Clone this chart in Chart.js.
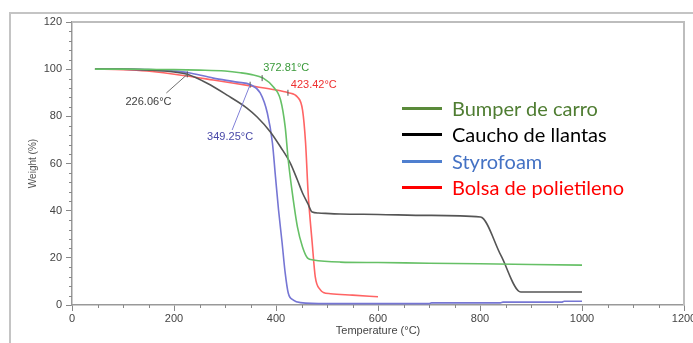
<!DOCTYPE html>
<html>
<head>
<meta charset="utf-8">
<script src="https://cdn.jsdelivr.net/npm/chart.js@4/dist/chart.umd.min.js"></script>
<style>
  html, body { margin: 0; padding: 0; background: #fff; }
  #wrap { position: relative; width: 693px; height: 343px; overflow: hidden; }
  #frame { position: absolute; left: 9px; top: 12px; width: 700px; height: 400px;
           border-left: 2px solid #c4c4c4; border-top: 2px solid #c4c4c4; box-sizing: border-box; }
  canvas { position: absolute; left: 0; top: 0; }
  #legend { position: absolute; left: 402px; top: 96px; font-family: Lato, "Open Sans", sans-serif; font-size: 20px; }
  .row { position: absolute; left: 0; height: 24px; white-space: nowrap; }
  .row .ln { position: absolute; left: 0; width: 40px; height: 3px; top: 11px; }
  .row .tx { position: absolute; left: 50px; top: 0; line-height: 24px; }
</style>
</head>
<body>
<div id="wrap">
  <div id="frame"></div>
  <canvas id="c" width="693" height="343"></canvas>
  <div id="legend"></div>
</div>
<script>
// ---- Data ----
const seriesNames = ["Bumper de carro", "Caucho de llantas", "Styrofoam", "Bolsa de polietileno"];

const bumperT = [45, 100, 150, 200, 250, 300, 330, 350, 375, 395, 409, 418, 424, 432, 442, 452, 462, 473, 526, 600, 700, 800, 900, 1000];
const bumperW = [100, 100, 99.9, 99.8, 99.6, 99.2, 98.5, 97.8, 96.2, 92.4, 86.9, 75.5, 61.5, 47.5, 33.1, 24.6, 19.9, 19.1, 18.2, 18.0, 17.7, 17.5, 17.2, 16.9];

const cauchoT = [45, 100, 150, 200, 226, 265, 304, 343, 363, 389, 409, 428, 442, 452, 462, 471, 483, 526, 600, 700, 801, 841, 880, 920, 1000];
const cauchoW = [100, 100, 99.6, 98.8, 97.8, 94, 89, 83.5, 79.7, 73.4, 67, 60.2, 53, 47.5, 43.2, 39.4, 39, 38.6, 38.4, 38, 37.3, 21, 5.5, 5.5, 5.5];

const styroT = [45, 100, 150, 200, 226, 277, 324, 350, 369, 383, 393, 399, 405, 412, 418, 424, 434, 448, 500, 600, 700, 705, 840, 845, 960, 965, 1000];
const styroW = [100, 100, 99.8, 99.2, 98.6, 96.2, 94.5, 93.4, 89.9, 81.4, 68.7, 54.3, 40.3, 26.3, 13.6, 5.1, 2.1, 1.0, 0.6, 0.6, 0.6, 0.9, 0.9, 1.2, 1.2, 1.6, 1.6];

const bolsaT = [45, 100, 147, 226, 277, 350, 400, 424, 442, 452, 458, 463, 471, 477, 487, 493, 507, 550, 600];
const bolsaW = [100, 99.8, 99.2, 97.1, 95.4, 92.9, 91.2, 90, 88.2, 82.7, 68.7, 47.5, 26.3, 11.9, 6.4, 5.3, 4.8, 4.2, 3.5];

const xTicks = [0, 200, 400, 600, 800, 1000, 1200];
const yTicks = [0, 20, 40, 60, 80, 100, 120];

// onset annotations: [temperature, weight at onset, label]
const onsetT = [372.81, 423.42, 226.06, 349.25];
const onsetW = [96.2, 90.0, 97.8, 93.4];
const onsetLabels = ["372.81°C", "423.42°C", "226.06°C", "349.25°C"];

// ---- Styling ----
const lineColors = ["#66c066", "#555555", "#7676d4", "#ff6464"];
const legendLineColors = ["#5a8a3a", "#000000", "#4f7fcf", "#ff0000"];
const legendTextColors = ["#4f7d32", "#000000", "#4472c4", "#ff0000"];
const annoColors = ["#3a9a3a", "#ee3030", "#404040", "#4848a8"];

function pts(t, w) { return t.map((v, i) => ({x: v, y: w[i]})); }
const allT = [bumperT, cauchoT, styroT, bolsaT];
const allW = [bumperW, cauchoW, styroW, bolsaW];

// legend
const lg = document.getElementById('legend');
seriesNames.forEach((n, i) => {
  const r = document.createElement('div');
  r.className = 'row';
  r.style.top = (i * 26.3) + 'px';
  r.innerHTML = '<div class="ln" style="background:' + legendLineColors[i] + '"></div><div class="tx" style="color:' + legendTextColors[i] + '">' + n + '</div>';
  lg.appendChild(r);
});

// annotation layout (label anchors in data units, alignment, optional leader end)
const annoLayout = [
  {lx: 375, ly: 100.6, align: 'left', leader: false},
  {lx: 429, ly: 93.2, align: 'left', leader: false},
  {lx: 150, ly: 86.2, align: 'center', leader: true, ex: 185, ey: 89.9},
  {lx: 310, ly: 71.2, align: 'center', leader: true, ex: 314, ey: 74.2}
];

const extras = {
  id: 'extras',
  afterDraw(chart) {
    const ctx = chart.ctx, xs = chart.scales.x, ys = chart.scales.y, a = chart.chartArea;
    ctx.save();
    // plot box top/right
    ctx.strokeStyle = '#bdbdbd'; ctx.lineWidth = 2;
    ctx.beginPath();
    ctx.moveTo(a.left, a.top); ctx.lineTo(a.right, a.top); ctx.lineTo(a.right, a.bottom);
    ctx.stroke();
    // minor ticks
    ctx.strokeStyle = '#888'; ctx.lineWidth = 1;
    ctx.beginPath();
    for (let v = 0; v <= 1200; v += 50) {
      if (v % 200 === 0) continue;
      const px = Math.round(xs.getPixelForValue(v)) + 0.5;
      ctx.moveTo(px, a.bottom); ctx.lineTo(px, a.bottom + 3);
    }
    for (let v = 0; v <= 120; v += 4) {
      if (v % 20 === 0) continue;
      const py = Math.round(ys.getPixelForValue(v)) + 0.5;
      ctx.moveTo(a.left, py); ctx.lineTo(a.left - 3, py);
    }
    ctx.stroke();
    // onset annotations
    ctx.font = '11px "Liberation Sans", Arial, sans-serif';
    ctx.textBaseline = 'middle';
    onsetT.forEach((t, i) => {
      const px = xs.getPixelForValue(t), py = ys.getPixelForValue(onsetW[i]);
      const L = annoLayout[i];
      ctx.strokeStyle = '#555'; ctx.lineWidth = 1;
      ctx.beginPath(); ctx.moveTo(px, py - 3); ctx.lineTo(px, py + 3); ctx.stroke();
      if (L.leader) {
        ctx.strokeStyle = i === 2 ? '#707070' : '#8080d8';
        ctx.beginPath(); ctx.moveTo(px, py);
        ctx.lineTo(xs.getPixelForValue(L.ex), ys.getPixelForValue(L.ey)); ctx.stroke();
      }
      ctx.fillStyle = annoColors[i];
      ctx.textAlign = L.align;
      ctx.fillText(onsetLabels[i], xs.getPixelForValue(L.lx), ys.getPixelForValue(L.ly));
    });
    ctx.restore();
  }
};

const tickFont = { size: 11, family: '"Liberation Sans", Arial, sans-serif' };

new Chart(document.getElementById('c'), {
  type: 'line',
  data: {
    datasets: seriesNames.map((n, i) => ({
      label: n,
      data: pts(allT[i], allW[i]),
      borderColor: lineColors[i],
      borderWidth: 1.6,
      pointRadius: 0,
      fill: false,
      cubicInterpolationMode: 'monotone'
    }))
  },
  options: {
    responsive: false,
    animation: false,
    layout: { padding: { left: 0, top: 22, right: 9, bottom: 0 } },
    plugins: { legend: { display: false }, tooltip: { enabled: false } },
    scales: {
      x: {
        type: 'linear', min: 0, max: 1200,
        afterBuildTicks: s => { s.ticks = xTicks.map(v => ({value: v})); },
        afterFit: s => { s.height = 38; s.paddingRight = 0; s.paddingLeft = 0; },
        ticks: { font: tickFont, color: '#444', padding: 1, maxRotation: 0, callback: v => String(v) },
        grid: { drawOnChartArea: false, tickLength: 6, color: '#888' },
        border: { color: '#999', width: 1.5 },
        title: { display: true, text: 'Temperature (°C)', font: tickFont, color: '#444', padding: { top: 0, bottom: 5 } }
      },
      y: {
        min: 0, max: 120,
        afterBuildTicks: s => { s.ticks = yTicks.map(v => ({value: v})); },
        afterFit: s => { s.width = 72; s.paddingTop = 0; s.paddingBottom = 0; },
        ticks: { font: tickFont, color: '#444', padding: 4, callback: v => String(v) },
        grid: { drawOnChartArea: false, tickLength: 6, color: '#888' },
        border: { color: '#999', width: 1.5 },
        title: { display: true, text: 'Weight (%)', font: { size: 10, family: '"Liberation Sans", Arial, sans-serif' }, color: '#555', padding: { top: 27, bottom: 0 } }
      }
    }
  },
  plugins: [extras]
});
</script>
</body>
</html>
